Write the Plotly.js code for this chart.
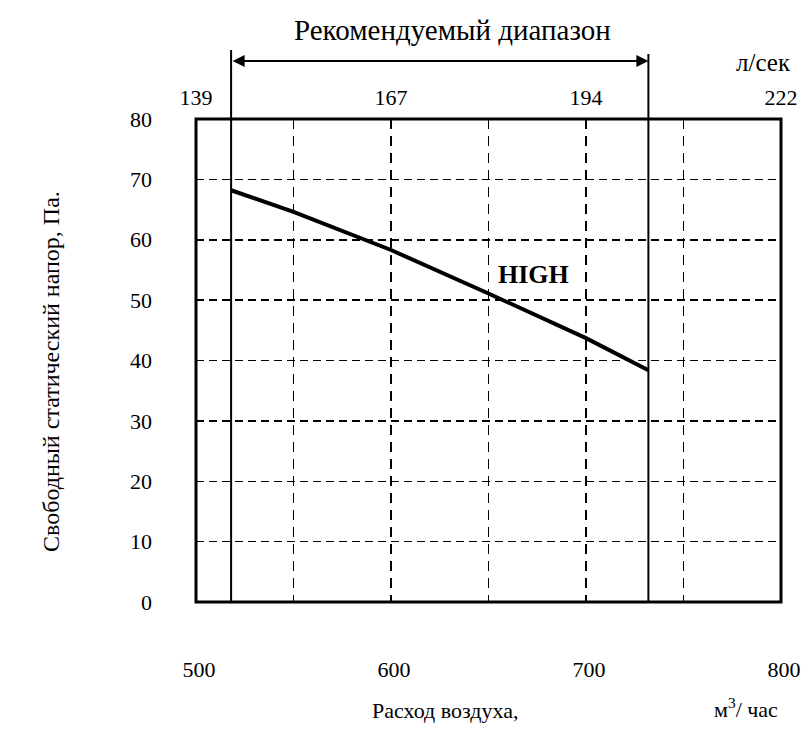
<!DOCTYPE html>
<html>
<head>
<meta charset="utf-8">
<script src="https://cdn.plot.ly/plotly-3.0.1.min.js"></script>
<style>html,body{margin:0;padding:0;background:#fff;}#chart{width:803px;height:740px;}</style>
</head>
<body>
<div id="chart"></div>
<script>
// Data
const flowM3h = [518, 550, 600, 650, 700, 732];
const pressurePa = [68.2, 64.6, 58.3, 51.1, 43.7, 38.4];
const seriesLabel = "HIGH";
const bottomTickVals = [500, 600, 700, 800];
const bottomTickText = ["500", "600", "700", "800"];
const minorGridVals = [550, 650, 750];
const topTickVals = [500, 600, 700, 800];
const topTickText = ["139", "167", "194", "222"];
const yTickVals = [0, 10, 20, 30, 40, 50, 60, 70, 80];
const rangeStart = 518;
const rangeEnd = 732;
const titleText = "Рекомендуемый диапазон";
const topUnit = "л/сек";
const yTitle = "Свободный статический напор, Па.";
const xTitle = "Расход воздуха,";
const xUnit = "м<sup>3</sup>/ час";

const FONT = "Liberation Serif, DejaVu Serif, serif";

const traces = [
  {x: flowM3h, y: pressurePa, type: "scatter", mode: "lines",
   line: {color: "#000", width: 4}, hoverinfo: "skip", showlegend: false},
  {x: [500, 800], y: [0, 0], xaxis: "x2", type: "scatter", mode: "markers",
   marker: {opacity: 0}, hoverinfo: "skip", showlegend: false}
];

const L = 196, T = 119, W = 585, H = 483;
const px = v => (v - L) / W;
const py = v => (T + H - v) / H;

const layout = {
  width: 803, height: 740,
  margin: {l: L, r: 803 - L - W, t: T, b: 740 - T - H},
  paper_bgcolor: "#fff", plot_bgcolor: "#fff",
  font: {family: FONT, size: 22, color: "#000"},
  showlegend: false,
  xaxis: {
    range: [500, 800], tickvals: bottomTickVals, ticktext: bottomTickText,
    showgrid: true, gridcolor: "#000", gridwidth: 1.5, griddash: "10px,7px",
    minor: {tickvals: minorGridVals, showgrid: true, gridcolor: "#000", gridwidth: 1.5, griddash: "10px,7px", ticks: ""},
    zeroline: false, showline: false, ticks: "",
    ticklabelstandoff: 52, ticklabelshift: 3, tickfont: {family: FONT, size: 22}
  },
  xaxis2: {
    overlaying: "x", side: "top", range: [500, 800],
    tickvals: topTickVals, ticktext: topTickText,
    showgrid: false, zeroline: false, showline: false, ticks: "",
    ticklabelstandoff: 9, tickfont: {family: FONT, size: 22}
  },
  yaxis: {
    range: [0, 80], tickvals: yTickVals,
    showgrid: true, gridcolor: "#000", gridwidth: 1.5, griddash: "8px,5px",
    zeroline: false, showline: false, ticks: "",
    ticklabelstandoff: 43, tickfont: {family: FONT, size: 22}
  },
  shapes: [
    {type: "rect", xref: "paper", yref: "paper", x0: 0, x1: 1, y0: 0, y1: 1,
     line: {color: "#000", width: 3}, layer: "above"},
    {type: "line", xref: "x", yref: "paper", x0: rangeStart, x1: rangeStart, y0: 0, y1: py(50),
     line: {color: "#000", width: 2}},
    {type: "line", xref: "x", yref: "paper", x0: rangeEnd, x1: rangeEnd, y0: 0, y1: py(54),
     line: {color: "#000", width: 2}}
  ],
  annotations: [
    {xref: "x", yref: "paper", x: rangeEnd, y: py(61), axref: "x", ax: rangeStart, ayref: "pixel", ay: 0,
     text: "", showarrow: true, arrowside: "end+start", arrowhead: 2, arrowsize: 1.2,
     arrowwidth: 2, arrowcolor: "#000", standoff: 0, startstandoff: 0},
    {xref: "paper", yref: "paper", x: px(452), y: py(30), xanchor: "center", yanchor: "middle",
     text: titleText, showarrow: false, font: {family: FONT, size: 29}},
    {xref: "paper", yref: "paper", x: px(763), y: py(63), xanchor: "center", yanchor: "middle",
     text: topUnit, showarrow: false, font: {family: FONT, size: 25}},
    {xref: "x", yref: "y", x: 673, y: 54.3, xanchor: "center", yanchor: "middle",
     text: "<b>" + seriesLabel + "</b>", showarrow: false, font: {family: FONT, size: 26}},
    {xref: "paper", yref: "paper", x: px(51), y: py(372), xanchor: "center", yanchor: "middle",
     text: yTitle, textangle: -90, showarrow: false, font: {family: FONT, size: 24}},
    {xref: "paper", yref: "paper", x: px(445), y: py(710), xanchor: "center", yanchor: "middle",
     text: xTitle, showarrow: false, font: {family: FONT, size: 22}},
    {xref: "paper", yref: "paper", x: px(746), y: py(708), xanchor: "center", yanchor: "middle",
     text: xUnit, showarrow: false, font: {family: FONT, size: 22}}
  ]
};

Plotly.newPlot("chart", traces, layout, {staticPlot: true, displayModeBar: false});
</script>
</body>
</html>
